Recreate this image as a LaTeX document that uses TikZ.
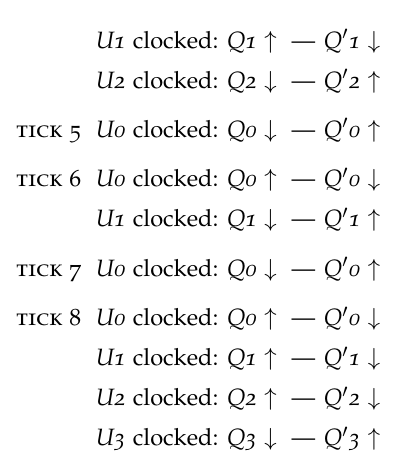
\documentclass[tikz,border=0pt]{standalone}
\usepackage[T1]{fontenc}
\usepackage[sc,osf]{mathpazo}
\usepackage{amsmath}
\usepackage{tikz}
\usetikzlibrary{positioning}
\newcommand{\Ucl}[2]{\textit{U#1} clocked: \textit{Q#1}~$#2$}
\newcommand{\Qp}[2]{\textit{Q}$'$\textit{#1}~$#2$}
\newcommand{\Tick}[1]{\textsc{tick}~#1}

\begin{document}
\begin{tikzpicture}[font=\fontsize{11}{13}\selectfont,
  lhs/.style={anchor=base east,inner sep=0pt},
  mid/.style={anchor=base,inner sep=0pt},
  tk/.style={anchor=base west,inner sep=0pt}]
\newcommand{\lcol}{4.537}
\newcommand{\tcol}{0.262}
\useasboundingbox (0,0) rectangle (6.59,-7.456);

%rest of tick 4
\path (\lcol,-0.785) node (r1l) [lhs] {\Ucl{1}{\uparrow}}
      + (0.425,0) node (r1d) [mid] {---}
      + (1.692,0) node (r1r) [lhs] {\Qp{1}{\downarrow}};
\path (\lcol,-1.439) node (r2l) [lhs] {\Ucl{2}{\downarrow}}
      + (0.425,0) node (r2d) [mid] {---}
      + (1.692,0) node (r2r) [lhs] {\Qp{2}{\uparrow}};

%tick 5
\path (\tcol,-2.248) node (t5) [tk] {\Tick{5}};
\path (\lcol,-2.248) node (r3l) [lhs] {\Ucl{0}{\downarrow}}
      + (0.425,0) node (r3d) [mid] {---}
      + (1.692,0) node (r3r) [lhs] {\Qp{0}{\uparrow}};

%tick 6
\path (\tcol,-3.057) node (t6) [tk] {\Tick{6}};
\path (\lcol,-3.057) node (r4l) [lhs] {\Ucl{0}{\uparrow}}
      + (0.425,0) node (r4d) [mid] {---}
      + (1.692,0) node (r4r) [lhs] {\Qp{0}{\downarrow}};
\path (\lcol,-3.711) node (r5l) [lhs] {\Ucl{1}{\downarrow}}
      + (0.425,0) node (r5d) [mid] {---}
      + (1.692,0) node (r5r) [lhs] {\Qp{1}{\uparrow}};

%tick 7
\path (\tcol,-4.521) node (t7) [tk] {\Tick{7}};
\path (\lcol,-4.521) node (r6l) [lhs] {\Ucl{0}{\downarrow}}
      + (0.425,0) node (r6d) [mid] {---}
      + (1.692,0) node (r6r) [lhs] {\Qp{0}{\uparrow}};

%tick 8
\path (\tcol,-5.330) node (t8) [tk] {\Tick{8}};
\path (\lcol,-5.330) node (r7l) [lhs] {\Ucl{0}{\uparrow}}
      + (0.425,0) node (r7d) [mid] {---}
      + (1.692,0) node (r7r) [lhs] {\Qp{0}{\downarrow}};
\path (\lcol,-5.984) node (r8l) [lhs] {\Ucl{1}{\uparrow}}
      + (0.425,0) node (r8d) [mid] {---}
      + (1.692,0) node (r8r) [lhs] {\Qp{1}{\downarrow}};
\path (\lcol,-6.638) node (r9l) [lhs] {\Ucl{2}{\uparrow}}
      + (0.425,0) node (r9d) [mid] {---}
      + (1.692,0) node (r9r) [lhs] {\Qp{2}{\downarrow}};
\path (\lcol,-7.292) node (r10l) [lhs] {\Ucl{3}{\downarrow}}
      + (0.425,0) node (r10d) [mid] {---}
      + (1.692,0) node (r10r) [lhs] {\Qp{3}{\uparrow}};

\end{tikzpicture}
\end{document}
